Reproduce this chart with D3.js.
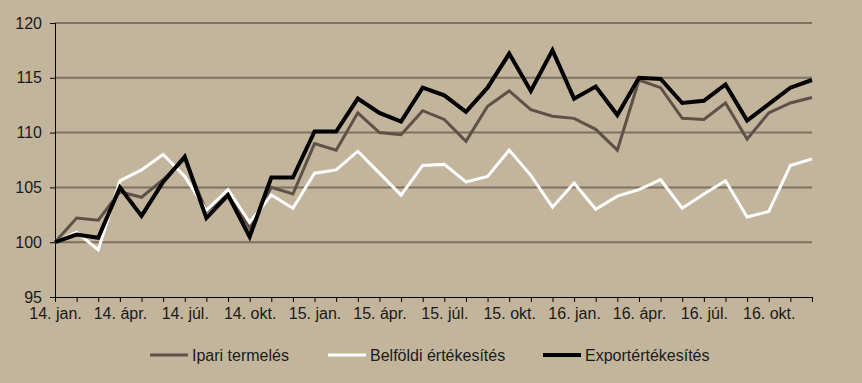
<!DOCTYPE html>
<html><head><meta charset="utf-8">
<script src="https://cdn.jsdelivr.net/npm/d3@7"></script>
<style>
html,body{margin:0;padding:0;background:#C2B59C;}
svg{display:block;font-family:"Liberation Sans",Arial,sans-serif;}
</style></head>
<body><svg id="c" width="862" height="383"></svg>
<script>
const monthNames = ["jan.","febr.","márc.","ápr.","máj.","jún.","júl.","aug.","szept.","okt.","nov.","dec."];
const years = ["14","15","16"];
const categories = [];
years.forEach(y => monthNames.forEach(m => categories.push(y + ". " + m)));
const tickLabels = categories.filter((d,i) => i % 3 === 0);

const ipari = [100,102.2,102.0,104.6,104.1,105.7,107.6,102.8,104.4,101.3,105.0,104.4,
  109.0,108.4,111.8,110.0,109.8,112.0,111.2,109.2,112.4,113.8,112.1,111.5,
  111.3,110.3,108.4,114.8,114.1,111.3,111.2,112.7,109.4,111.8,112.7,113.2];
const belfoldi = [100,100.9,99.3,105.6,106.6,108.0,106.0,102.9,104.8,101.8,104.3,103.1,
  106.3,106.6,108.3,106.3,104.3,107.0,107.1,105.5,106.0,108.4,106.1,103.2,
  105.4,103.0,104.2,104.8,105.7,103.1,104.4,105.6,102.3,102.8,107.0,107.6];
const export_ = [100,100.7,100.4,105.0,102.4,105.5,107.8,102.2,104.3,100.5,105.9,105.9,
  110.1,110.1,113.1,111.8,111.0,114.1,113.4,111.9,114.1,117.2,113.8,117.5,
  113.1,114.2,111.6,115.0,114.9,112.7,112.9,114.4,111.1,112.6,114.1,114.8];

const seriesNames = ["Ipari termelés","Belföldi értékesítés","Exportértékesítés"];
const seriesColors = ["#5E5147","#FFFFFF","#000000"];
const seriesWidths = [3,3,4];
const seriesData = [ipari, belfoldi, export_];
const yTicks = [95,100,105,110,115,120];

const svg = d3.select("#c");
const L = 55, R = 812, T = 23, B = 297;
const x = d3.scalePoint().domain(categories).range([L, R]);
const y = d3.scaleLinear().domain([95,120]).range([B, T]);

// gridlines
svg.append("g").selectAll("line").data(yTicks.filter(t => t > 95)).join("line")
  .attr("x1", L).attr("x2", R).attr("y1", d => y(d)).attr("y2", d => y(d))
  .attr("stroke", "#7E7261").attr("stroke-width", 2);

// y axis
const yAxis = svg.append("g").attr("transform", `translate(${L},0)`)
  .call(d3.axisLeft(y).tickValues(yTicks).tickSize(5).tickPadding(8));
yAxis.select(".domain").attr("stroke", "#000").attr("stroke-width", 1);
yAxis.selectAll(".tick line").attr("stroke", "#000");
yAxis.selectAll("text").attr("font-size", 16).attr("fill", "#1a1a1a")
  .attr("font-family", '"Liberation Sans",Arial,sans-serif');

// x axis
const xAxis = svg.append("g").attr("transform", `translate(0,${B})`)
  .call(d3.axisBottom(x).tickSize(5).tickPadding(6).tickFormat(d => tickLabels.includes(d) ? d : ""));
xAxis.select(".domain").attr("stroke", "#000").attr("stroke-width", 1).attr("d", `M${L},0.5H${R}`);
xAxis.selectAll(".tick line").attr("stroke", "#000");
xAxis.selectAll("text").attr("font-size", 16).attr("fill", "#1a1a1a")
  .attr("font-family", '"Liberation Sans",Arial,sans-serif');

// lines
const line = d3.line().x((d,i) => x(categories[i])).y(d => y(d));
seriesData.forEach((s, k) => {
  svg.append("path").datum(s).attr("d", line).attr("fill", "none")
    .attr("stroke", seriesColors[k]).attr("stroke-width", seriesWidths[k])
    .attr("stroke-linejoin", "miter").attr("stroke-miterlimit", 4);
});

// legend
const legX = [150, 328, 543];
const legY = 355;
seriesNames.forEach((n, k) => {
  const g = svg.append("g").attr("transform", `translate(${legX[k]},${legY})`);
  g.append("line").attr("x1", 0).attr("x2", 38).attr("y1", 0).attr("y2", 0)
    .attr("stroke", seriesColors[k]).attr("stroke-width", seriesWidths[k]);
  g.append("text").attr("x", 42).attr("y", 6).attr("font-size", 16).attr("fill", "#1a1a1a").text(n);
});
</script></body></html>
